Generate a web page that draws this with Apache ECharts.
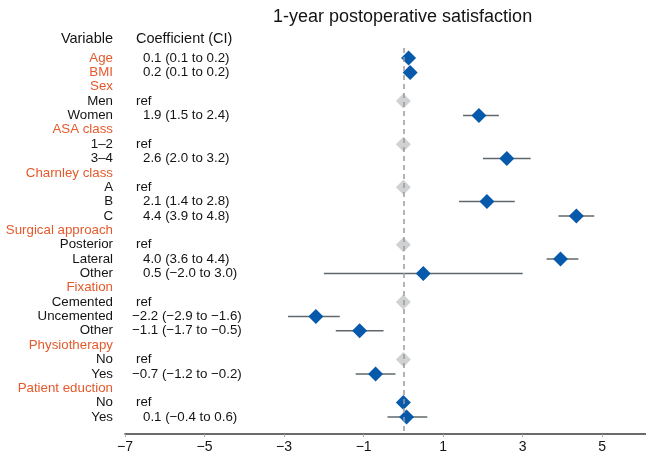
<!DOCTYPE html>
<html>
<head>
<meta charset="utf-8">
<script src="https://cdn.jsdelivr.net/npm/echarts@6/dist/echarts.min.js"></script>
<style>html,body{margin:0;padding:0;background:#fff}#c{width:646px;height:455px}</style>
</head>
<body>
<div id="c"></div>
<script>
// ---- data ----
const rowLabels = ['Age','BMI','Sex','Men','Women','ASA class','1–2','3–4','Charnley class','A','B','C',
  'Surgical approach','Posterior','Lateral','Other','Fixation','Cemented','Uncemented','Other',
  'Physiotherapy','No','Yes','Patient eduction','No','Yes'];
const rowIsHeader = [1,1,1,0,0,1,0,0,1,0,0,0,1,0,0,0,1,0,0,0,1,0,0,1,0,0];
const coefText = ['0.1 (0.1 to 0.2)','0.2 (0.1 to 0.2)','','ref','1.9 (1.5 to 2.4)','','ref','2.6 (2.0 to 3.2)','',
  'ref','2.1 (1.4 to 2.8)','4.4 (3.9 to 4.8)','','ref','4.0 (3.6 to 4.4)','0.5 (−2.0 to 3.0)','',
  'ref','−2.2 (−2.9 to −1.6)','−1.1 (−1.7 to −0.5)','','ref','−0.7 (−1.2 to −0.2)','','ref','0.1 (−0.4 to 0.6)'];
const estimate = [0.13,0.17,null,null,1.9,null,null,2.6,null,null,2.1,4.35,null,null,3.95,0.5,null,
  null,-2.2,-1.1,null,null,-0.7,null,0,0.08];
const ciLow  = [0.1,0.1,null,null,1.5,null,null,2.0,null,null,1.4,3.9,null,null,3.6,-2.0,null,
  null,-2.9,-1.7,null,null,-1.2,null,null,-0.4];
const ciHigh = [0.2,0.2,null,null,2.4,null,null,3.2,null,null,2.8,4.8,null,null,4.4,3.0,null,
  null,-1.6,-0.5,null,null,-0.2,null,null,0.6];
const refRows = [3,6,9,13,17,21];
const xTicks = [-7,-5,-3,-1,1,3,5];
const titleText = '1-year postoperative satisfaction';
const headVariable = 'Variable';
const headCoef = 'Coefficient (CI)';

// ---- build ----
const ORANGE = '#E45A2C', TXT = '#151314', BLUE = '#0759AB', GREY = '#CFD1D2';
const FONT = 'Liberation Sans';
const FS = 13.3;
const estData = [], ciData = [];
estimate.forEach((v, i) => { if (v !== null) estData.push([v, i]); });
ciLow.forEach((v, i) => { if (v !== null) ciData.push([v, ciHigh[i], i]); });
const refData = refRows.map(i => [0, i]);
const rowIdx = rowLabels.map((_, i) => i);
const coefIdx = rowIdx.filter(i => coefText[i] !== '');

const yBase = {
  type: 'value', inverse: true, min: -0.7, max: 26.2, position: 'left',
  splitLine: {show: false}, axisLine: {show: false}, axisTick: {show: false}
};

const chart = echarts.init(document.getElementById('c'), null, {renderer: 'canvas'});
chart.setOption({
  animation: false,
  textStyle: {fontFamily: FONT},
  title: [
    {text: titleText, left: 273, top: 8, padding: 0, textStyle: {fontSize: 18, fontWeight: 'normal', color: TXT, fontFamily: FONT}},
    {text: headVariable, right: 533, top: 31, padding: 0, textStyle: {fontSize: 14.5, fontWeight: 'normal', color: TXT, fontFamily: FONT}},
    {text: headCoef, left: 136, top: 31, padding: 0, textStyle: {fontSize: 14.5, fontWeight: 'normal', color: TXT, fontFamily: FONT}}
  ],
  grid: {left: 125, right: 0, top: 48, bottom: 20.8, containLabel: false},
  xAxis: {
    type: 'value', min: -7, max: 6.1,
    splitLine: {show: false},
    axisLine: {show: true, onZero: false, lineStyle: {color: '#3a3a3a', width: 1.6}},
    axisTick: {show: true, customValues: xTicks, length: 3, lineStyle: {color: '#aaa', width: 1}},
    axisLabel: {customValues: xTicks, margin: 6, fontSize: 14, color: TXT, fontFamily: FONT,
      formatter: v => (v < 0 ? '−' + Math.abs(v) : String(v))}
  },
  yAxis: [
    Object.assign({}, yBase, {
      axisLabel: {
        customValues: rowIdx, align: 'right', margin: 12, fontSize: FS, fontFamily: FONT,
        formatter: v => {
          const i = Math.round(v);
          return (rowIsHeader[i] ? '{h|' : '{n|') + rowLabels[i] + '}';
        },
        rich: {
          h: {color: ORANGE, fontSize: FS, fontFamily: FONT},
          n: {color: TXT, fontSize: FS, fontFamily: FONT}
        }
      }
    }),
    Object.assign({}, yBase, {
      axisLabel: {
        customValues: coefIdx, align: 'left', margin: -7, fontSize: FS, fontFamily: FONT,
        formatter: v => {
          const t = coefText[Math.round(v)];
          let st = 'p';
          if (t === 'ref') st = 'r'; else if (t[0] === '−') st = 'm';
          return '{' + st + '|' + t + '}';
        },
        rich: {
          p: {padding: [0, 0, 0, 11], color: TXT, fontSize: FS, fontFamily: FONT},
          m: {padding: [0, 0, 0, 0], color: TXT, fontSize: FS, fontFamily: FONT},
          r: {padding: [0, 0, 0, 4], color: TXT, fontSize: FS, fontFamily: FONT}
        }
      }
    })
  ],
  series: [
    {
      type: 'custom', z: 1, data: ciData, yAxisIndex: 0,
      encode: {x: [0, 1], y: 2},
      renderItem: (params, api) => {
        const a = api.coord([api.value(0), api.value(2)]);
        const b = api.coord([api.value(1), api.value(2)]);
        return {type: 'line', shape: {x1: a[0], y1: a[1], x2: b[0], y2: b[1]},
          style: {stroke: '#60676b', lineWidth: 1.5}};
      },
      markLine: {
        silent: true, symbol: 'none', label: {show: false},
        lineStyle: {color: '#9a9a9a', type: [5, 4], width: 1.5},
        data: [[{coord: [0, -0.7]}, {coord: [0, 26.2]}]]
      }
    },
    {type: 'scatter', z: 3, yAxisIndex: 0, data: refData, symbol: 'diamond', symbolSize: [15, 15],
      itemStyle: {color: GREY, opacity: 1}},
    {type: 'scatter', z: 4, yAxisIndex: 0, data: estData, symbol: 'diamond', symbolSize: [15, 15],
      itemStyle: {color: BLUE, opacity: 1}}
  ]
});
</script>
</body>
</html>
